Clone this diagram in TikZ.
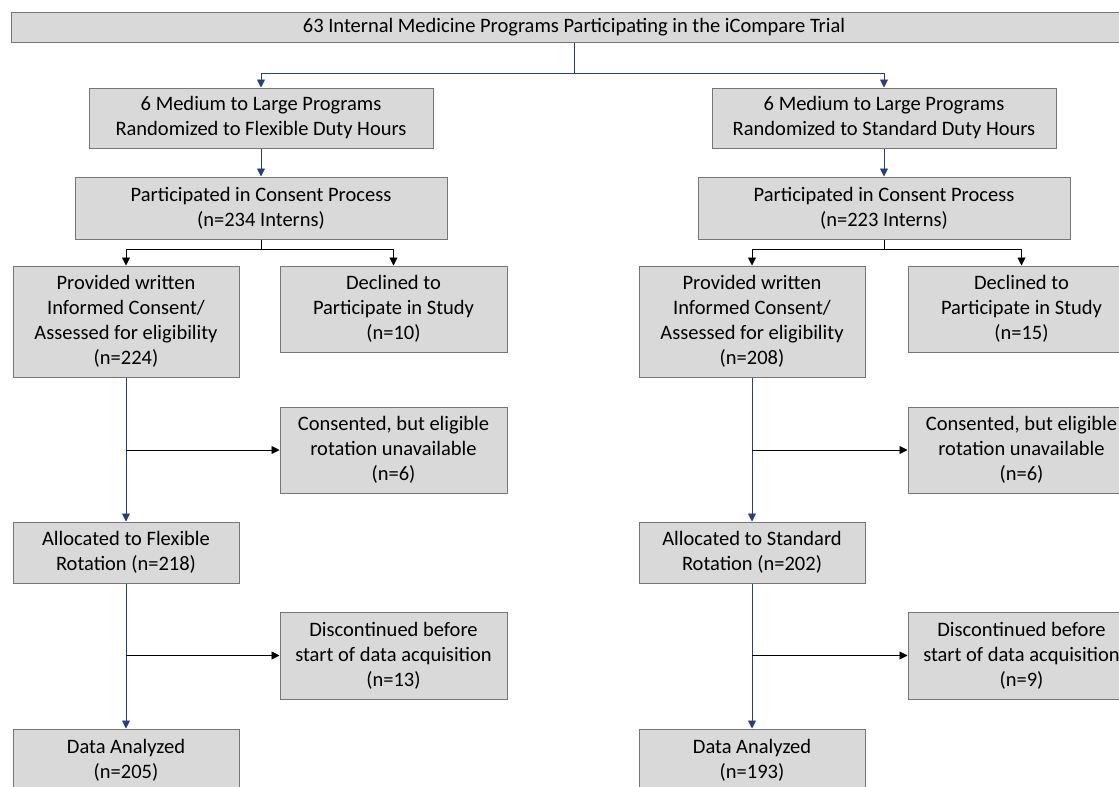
\documentclass[tikz,border=0pt]{standalone}
\usepackage{fontspec}
\setmainfont{Carlito}
\usetikzlibrary{arrows.meta,positioning}
\definecolor{boxfill}{RGB}{217,217,217}
\definecolor{boxline}{RGB}{118,118,118}
\definecolor{flowblue}{RGB}{38,64,122}

\begin{document}
\begin{tikzpicture}[
  x=1pt, y=-1pt,
  font=\fontsize{20.5}{25}\selectfont,
  box/.style={draw=boxline, fill=boxfill, line width=1pt, align=center, inner sep=0pt},
  head/.style={box, minimum width=344pt, minimum height=60pt},
  proc/.style={box, minimum width=372pt, minimum height=62pt},
  main/.style={box, minimum width=226pt},
  side/.style={box, minimum width=227pt, minimum height=86pt},
  flow/.style={draw=flowblue, line width=0.9pt},
  branch/.style={draw=black, line width=0.9pt},
  >={Triangle[length=8pt, width=8pt]}
]
\useasboundingbox (0,0) rectangle (1119,787);
\clip (0,0) rectangle (1119,787);

\node[box, minimum width=1126pt, minimum height=30pt] (trial) at (574,27)
  {63 Internal Medicine Programs Participating in the iCompare Trial};

\node[head] (flex) at (261,118) {6 Medium to Large Programs\\Randomized to Flexible Duty Hours};
\node[proc, below=28pt of flex] (consF) {Participated in Consent Process\\(n=234 Interns)};
\node[main, minimum height=111pt] (provF) at (126,321.5)
  {Provided written\\Informed Consent/\\Assessed for eligibility\\(n=224)};
\node[side] (declF) at (393.5,309) {Declined to\\Participate in Study\\(n=10)};
\node[side, below=54pt of declF] (eligF) {Consented, but eligible\\rotation unavailable\\(n=6)};
\node[main, minimum height=61pt, below=144pt of provF] (allocF) {Allocated to Flexible\\Rotation (n=218)};
\node[side, minimum height=87pt, below=118pt of eligF] (discF) {Discontinued before\\start of data acquisition\\(n=13)};
\node[main, minimum height=62pt, below=145pt of allocF] (dataF) {Data Analyzed\\(n=205)};

\node[head] (std) at (884,118) {6 Medium to Large Programs\\Randomized to Standard Duty Hours};
\node[proc, below=28pt of std] (consS) {Participated in Consent Process\\(n=223 Interns)};
\node[main, minimum height=111pt] (provS) at (752,321.5)
  {Provided written\\Informed Consent/\\Assessed for eligibility\\(n=208)};
\node[side] (declS) at (1021.5,309) {Declined to\\Participate in Study\\(n=15)};
\node[side, below=54pt of declS] (eligS) {Consented, but eligible\\rotation unavailable\\(n=6)};
\node[main, minimum height=61pt, below=144pt of provS] (allocS) {Allocated to Standard\\Rotation (n=202)};
\node[side, minimum height=87pt, below=118pt of eligS] (discS) {Discontinued before\\start of data acquisition\\(n=9)};
\node[main, minimum height=62pt, below=145pt of allocS] (dataS) {Data Analyzed\\(n=193)};

\draw[flow,->] (trial.south) -- ++(0,31) -| (flex);
\draw[flow,->] (trial.south) -- ++(0,31) -| (std);
\draw[flow,->] (flex) -- (consF);
\draw[flow,->] (std) -- (consS);

\draw[branch,->] (consF.south) -- ++(0,10) -| (provF);
\draw[branch,->] (consF.south) -- ++(0,10) -| (declF);
\draw[branch,->] (consS.south) -- ++(0,10) -| (provS);
\draw[branch,->] (consS.south) -- ++(0,10) -| (declS);

\draw[flow,->] (provF) -- (allocF);
\draw[flow,->] (allocF) -- (dataF);
\draw[branch,->] (provF.south |- eligF.west) -- (eligF);
\draw[branch,->] (allocF.south |- discF.west) -- (discF);

\draw[flow,->] (provS) -- (allocS);
\draw[flow,->] (allocS) -- (dataS);
\draw[branch,->] (provS.south |- eligS.west) -- (eligS);
\draw[branch,->] (allocS.south |- discS.west) -- (discS);
\end{tikzpicture}
\end{document}
